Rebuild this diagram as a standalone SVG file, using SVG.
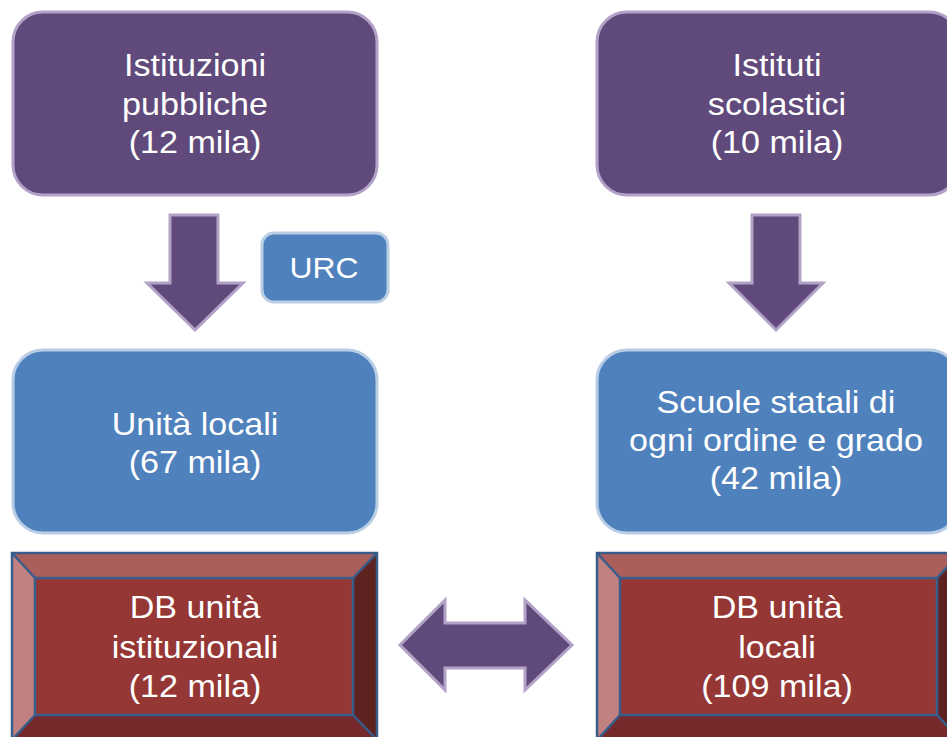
<svg xmlns="http://www.w3.org/2000/svg" width="947" height="737" viewBox="0 0 947 737">
  <style>
    .purple { fill: #604a7b; stroke: #b3a2c7; stroke-width: 3; }
    .blue { fill: #4f81bd; stroke: #b9cde5; stroke-width: 3; }
    .arrow { fill: #604a7b; stroke: #b3a2c7; stroke-width: 3; stroke-linejoin: miter; }
    .face { fill: #953735; }
    .bt { fill: #ab5f5d; }
    .bl { fill: #c08180; }
    .br { fill: #5e2220; }
    .bb { fill: #76292a; }
    .edge { fill: none; stroke: #385d8a; stroke-width: 2.5; }
    text { font-family: "Liberation Sans", Arial, sans-serif; fill: #ffffff; text-anchor: middle; font-size: 31px; }
  </style>

  <g id="istituzioni-pubbliche">
    <rect class="purple" x="13" y="12" width="364" height="183" rx="30"/>
    <g transform="translate(195 0) scale(1.1 1)">
      <text x="0" y="76">Istituzioni</text>
      <text x="0" y="115">pubbliche</text>
      <text x="0" y="153">(12 mila)</text>
    </g>
  </g>

  <g id="istituti-scolastici">
    <rect class="purple" x="597" y="12" width="362" height="183" rx="30"/>
    <g transform="translate(777 0) scale(1.1 1)">
      <text x="0" y="76">Istituti</text>
      <text x="0" y="115">scolastici</text>
      <text x="0" y="153">(10 mila)</text>
    </g>
  </g>

  <g id="urc">
    <rect class="blue" x="262" y="233" width="126" height="69" rx="12" stroke="#a7c0de"/>
    <g transform="translate(324 0) scale(1.1 1)">
      <text x="0" y="278" style="font-size:29px">URC</text>
    </g>
  </g>

  <g id="unita-locali">
    <rect class="blue" x="13" y="350" width="364" height="183" rx="30"/>
    <g transform="translate(195 0) scale(1.1 1)">
      <text x="0" y="435">Unità locali</text>
      <text x="0" y="473">(67 mila)</text>
    </g>
  </g>

  <g id="scuole-statali">
    <rect class="blue" x="597" y="350" width="362" height="183" rx="30"/>
    <g transform="translate(776 0) scale(1.1 1)">
      <text x="0" y="413">Scuole statali di</text>
      <text x="0" y="451">ogni ordine e grado</text>
      <text x="0" y="489">(42 mila)</text>
    </g>
  </g>

  <g id="db-unita-istituzionali">
    <polygon class="bt" points="12,553 377,553 353,578 35,578"/>
    <polygon class="bl" points="12,553 35,578 35,715 12,740"/>
    <polygon class="br" points="377,553 377,740 353,715 353,578"/>
    <polygon class="bb" points="12,740 35,715 353,715 377,740"/>
    <rect class="face" x="35" y="578" width="318" height="137"/>
    <rect class="edge" x="12" y="553" width="365" height="187"/>
    <rect class="edge" x="35" y="578" width="318" height="137"/>
    <path class="edge" d="M12,553 L35,578 M377,553 L353,578 M12,740 L35,715 M377,740 L353,715"/>
    <g transform="translate(195 0) scale(1.1 1)">
      <text x="0" y="618">DB unità</text>
      <text x="0" y="658">istituzionali</text>
      <text x="0" y="697">(12 mila)</text>
    </g>
  </g>

  <g id="db-unita-locali">
    <polygon class="bt" points="597,553 960,553 937,578 620,578"/>
    <polygon class="bl" points="597,553 620,578 620,715 597,740"/>
    <polygon class="br" points="960,553 960,740 937,715 937,578"/>
    <polygon class="bb" points="597,740 620,715 937,715 960,740"/>
    <rect class="face" x="620" y="578" width="317" height="137"/>
    <rect class="edge" x="597" y="553" width="363" height="187"/>
    <rect class="edge" x="620" y="578" width="317" height="137"/>
    <path class="edge" d="M597,553 L620,578 M960,553 L937,578 M597,740 L620,715 M960,740 L937,715"/>
    <g transform="translate(777 0) scale(1.1 1)">
      <text x="0" y="618">DB unità</text>
      <text x="0" y="658">locali</text>
      <text x="0" y="697">(109 mila)</text>
    </g>
  </g>

  <g id="connectors">
    <polygon class="arrow" points="170,215 218,215 218,283 243,283 195,330 147,283 170,283"/>
    <polygon class="arrow" points="752,215 800,215 800,283 823,283 776,330 729,283 752,283"/>
    <polygon class="arrow" points="400,645 445,600 445,623 525,623 525,600 572,645 525,690 525,668 445,668 445,690"/>
  </g>
</svg>
